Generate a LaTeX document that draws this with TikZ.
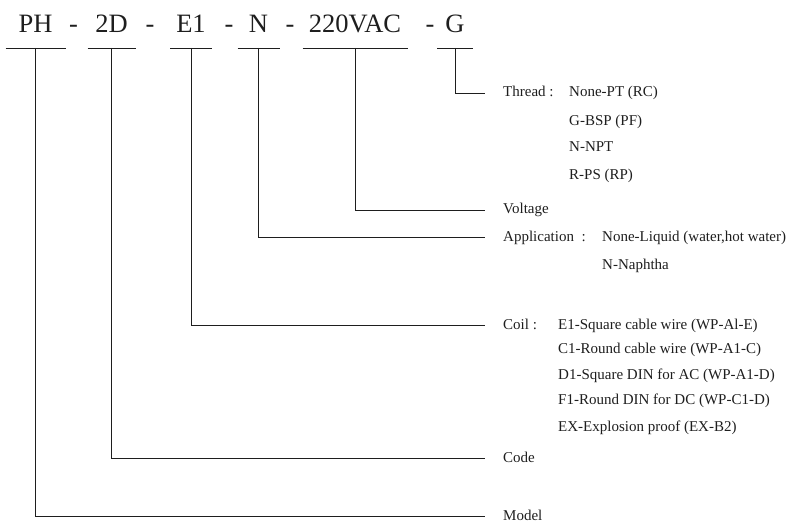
\documentclass[tikz,border=0pt]{standalone}
\usepackage{fontspec}
\setmainfont{Liberation Serif}
\usepackage{tikz}
\usetikzlibrary{calc,positioning}
\definecolor{inkgray}{HTML}{1E1E1E}
\tikzset{
  codepart/.style={inner sep=0pt, anchor=base, text=inkgray, font=\fontsize{26.5}{30}\selectfont},
  codedash/.style={codepart},
  fieldlabel/.style={inner sep=0pt, anchor=base west, text=inkgray, font=\fontsize{15}{18}\selectfont},
  fieldvalue/.style={fieldlabel},
  leader/.style={inkgray, line width=0.9pt}
}

\begin{document}
\begin{tikzpicture}[x=1pt, y=-1pt]
  \useasboundingbox (0,0) rectangle (793,524);
  % order code
  \node[codepart] (ph)  at (35.5,33)  {PH};
  \node[codedash] (d1)  at (73.5,33)  {-};
  \node[codepart] (c2d) at (111.5,33) {2D};
  \node[codedash] (d2)  at (150,33)   {-};
  \node[codepart] (e1)  at (191,33)   {E1};
  \node[codedash] (d3)  at (229,33)   {-};
  \node[codepart] (n)   at (258.5,33) {N};
  \node[codedash] (d4)  at (290,33)   {-};
  \node[codepart] (vac) at (355,33)   {220VAC};
  \node[codedash] (d5)  at (430,33)   {-};
  \node[codepart] (g)   at (455,33)   {G};
  % field names
  \node[fieldlabel] (thread)  at (503,97)  {Thread :};
  \node[fieldlabel] (voltage) at (503,214) {Voltage};
  \node[fieldlabel] (app)     at (503,241) {Application \ :};
  \node[fieldlabel] (coil)    at (503,329) {Coil :};
  \node[fieldlabel] (code)    at (503,462) {Code};
  \node[fieldlabel] (model)   at (503,520) {Model};
  % options
  \node[fieldvalue] (t1) at (569,97)  {None-PT (RC)};
  \node[fieldvalue] (t2) at (569,126) {G-BSP (PF)};
  \node[fieldvalue] (t3) at (569,152) {N-NPT};
  \node[fieldvalue] (t4) at (569,180) {R-PS (RP)};
  \node[fieldvalue] (a1) at (602,241) {None-Liquid (water,hot water)};
  \node[fieldvalue] (a2) at (602,269) {N-Naphtha};
  \node[fieldvalue] (k1) at (558,329) {E1-Square cable wire (WP-Al-E)};
  \node[fieldvalue] (k2) at (558,353) {C1-Round cable wire (WP-A1-C)};
  \node[fieldvalue] (k3) at (558,379) {D1-Square DIN for AC (WP-A1-D)};
  \node[fieldvalue] (k4) at (558,404) {F1-Round DIN for DC (WP-C1-D)};
  \node[fieldvalue] (k5) at (558,431) {EX-Explosion proof (EX-B2)};
  % bars under each part
  \foreach \p/\w in {ph/30,c2d/24,e1/21,n/21,vac/52.5,g/18}
    \draw[leader] ($(\p.base)+(-\w,15)$) -- ($(\p.base)+(\w,15)$);
  % leaders to the field names
  \foreach \p/\f in {ph/model,c2d/code,e1/coil,n/app,vac/voltage,g/thread}
    \draw[leader] ($(\p.base)+(0,15)$) |- ($(\f.base west)+(-18,-4)$);
\end{tikzpicture}
\end{document}
